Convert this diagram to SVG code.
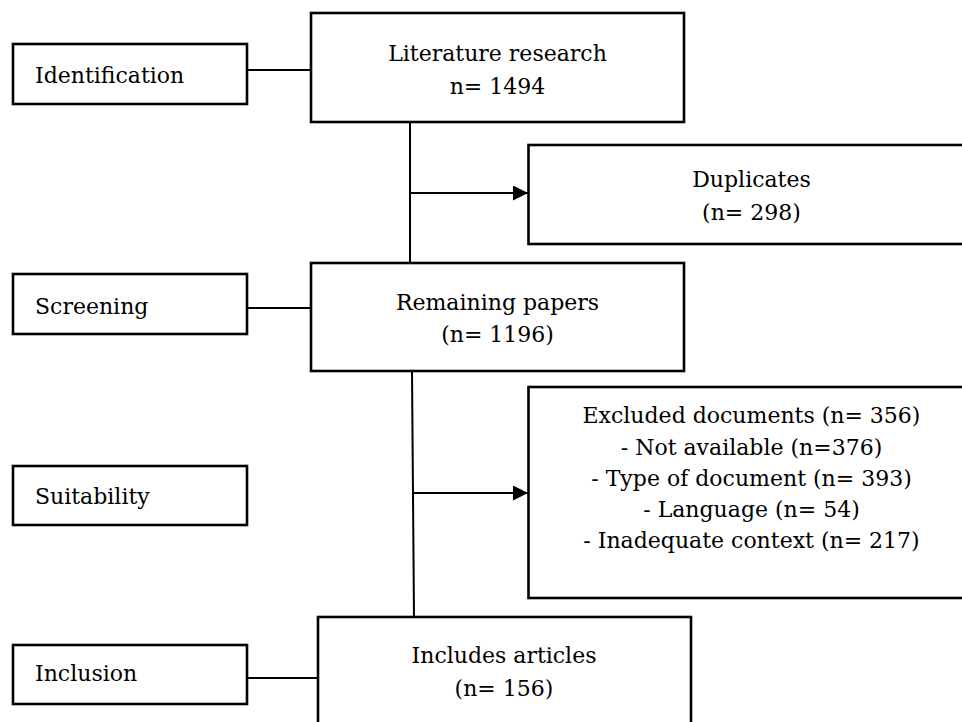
<svg xmlns="http://www.w3.org/2000/svg" width="962" height="722" viewBox="0 0 962 722">
<style>
.box{fill:#fff;stroke:#000;stroke-width:2.6}
.ln{fill:none;stroke:#000;stroke-width:2}
text{font-family:"DejaVu Serif","Liberation Serif",serif;font-size:22px;fill:#000}
.c{text-anchor:middle}
</style>
<defs>
<marker id="arr" markerUnits="userSpaceOnUse" markerWidth="16" markerHeight="16" refX="15" refY="7.5" orient="auto">
<path d="M0,0 L15,7.5 L0,15 Z" fill="#000"/>
</marker>
</defs>
<rect width="962" height="722" fill="#fff"/>
<g id="connectors">
<line class="ln" x1="247" y1="70" x2="311" y2="70"/>
<line class="ln" x1="247" y1="308" x2="311" y2="308"/>
<line class="ln" x1="247" y1="678" x2="318" y2="678"/>
<line class="ln" x1="410" y1="122" x2="410" y2="263"/>
<line class="ln" x1="410" y1="193" x2="528" y2="193" marker-end="url(#arr)"/>
<line class="ln" x1="412" y1="371" x2="414" y2="617"/>
<line class="ln" x1="413" y1="493" x2="528" y2="493" marker-end="url(#arr)"/>
</g>
<g id="identification">
<rect class="box" x="13" y="44" width="234" height="60"/>
<text x="35" y="83">Identification</text>
</g>
<g id="screening">
<rect class="box" x="13" y="274" width="234" height="60"/>
<text x="35" y="314">Screening</text>
</g>
<g id="suitability">
<rect class="box" x="13" y="466" width="234" height="59"/>
<text x="35" y="504">Suitability</text>
</g>
<g id="inclusion">
<rect class="box" x="13" y="645" width="234" height="59"/>
<text x="35" y="681">Inclusion</text>
</g>
<g id="literature">
<rect class="box" x="311" y="13" width="373" height="109"/>
<text class="c" x="497.5" y="61">Literature research</text>
<text class="c" x="497.5" y="94">n= 1494</text>
</g>
<g id="duplicates">
<rect class="box" x="528.5" y="145" width="450" height="99"/>
<text class="c" x="751.5" y="187">Duplicates</text>
<text class="c" x="751.5" y="220">(n= 298)</text>
</g>
<g id="remaining">
<rect class="box" x="311" y="263" width="373" height="108"/>
<text class="c" x="497.5" y="310">Remaining papers</text>
<text class="c" x="497.5" y="342">(n= 1196)</text>
</g>
<g id="excluded">
<rect class="box" x="528.5" y="387" width="450" height="211"/>
<text class="c" x="751.5" y="423">Excluded documents (n= 356)</text>
<text class="c" x="751.5" y="455">- Not available (n=376)</text>
<text class="c" x="751.5" y="486">- Type of document (n= 393)</text>
<text class="c" x="751.5" y="517">- Language (n= 54)</text>
<text class="c" x="751.5" y="548">- Inadequate context (n= 217)</text>
</g>
<g id="includes">
<rect class="box" x="318" y="617" width="373" height="120"/>
<text class="c" x="504" y="663">Includes articles</text>
<text class="c" x="504" y="696">(n= 156)</text>
</g>
</svg>
